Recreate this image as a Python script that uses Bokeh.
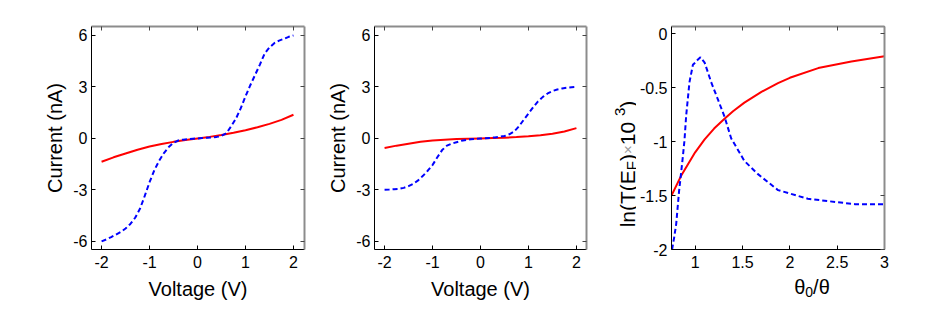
import math
from bokeh.plotting import figure
from bokeh.layouts import row, column
from bokeh.models import Range1d, LinearAxis, FixedTicker
from bokeh.core.properties import value
from bokeh.embed import file_html
from bokeh.resources import INLINE

FONT = "Liberation Sans"

# ---------------- data ----------------
voltage = [-2.0, -1.9, -1.8, -1.7, -1.6, -1.5, -1.4, -1.3, -1.2, -1.1, -1.0,
           -0.9, -0.8, -0.7, -0.6, -0.5, -0.4, -0.3, -0.2, -0.1, 0.0,
           0.1, 0.2, 0.3, 0.4, 0.5, 0.6, 0.7, 0.8, 0.9, 1.0,
           1.1, 1.2, 1.3, 1.4, 1.5, 1.6, 1.7, 1.8, 1.9, 2.0]
current_a_blue = [-6.0, -5.88, -5.75, -5.6, -5.45, -5.25, -4.98, -4.62, -4.1, -3.35, -2.55,
                  -1.85, -1.3, -0.85, -0.5, -0.25, -0.12, -0.07, -0.04, -0.02, 0.0,
                  0.02, 0.04, 0.06, 0.09, 0.15, 0.3, 0.7, 1.15, 1.75, 2.45,
                  3.1, 3.7, 4.3, 4.95, 5.3, 5.55, 5.7, 5.8, 5.92, 6.0]
current_b_blue = [-2.99, -2.98, -2.96, -2.94, -2.88, -2.78, -2.64, -2.44, -2.18, -1.88, -1.55,
                  -1.1, -0.68, -0.42, -0.3, -0.22, -0.14, -0.09, -0.05, -0.02, 0.0,
                  0.01, 0.03, 0.06, 0.1, 0.14, 0.24, 0.4, 0.7, 1.08, 1.45,
                  1.82, 2.16, 2.42, 2.62, 2.76, 2.85, 2.91, 2.95, 2.98, 3.0]

voltage_coarse = [-2.0, -1.75, -1.5, -1.25, -1.0, -0.75, -0.5, -0.25, 0.0,
                  0.25, 0.5, 0.75, 1.0, 1.25, 1.5, 1.75, 2.0]
current_a_red = [-1.36, -1.1, -0.88, -0.66, -0.47, -0.32, -0.2, -0.09, 0.0,
                 0.09, 0.2, 0.33, 0.48, 0.65, 0.85, 1.08, 1.38]
current_b_red = [-0.56, -0.42, -0.31, -0.2, -0.12, -0.07, -0.04, -0.02, 0.0,
                 0.02, 0.04, 0.08, 0.13, 0.19, 0.27, 0.4, 0.6]

theta_blue = [0.756, 0.78, 0.80, 0.83, 0.87, 0.887, 0.905, 0.94, 0.976, 1.0, 1.03, 1.056,
              1.10, 1.169, 1.24, 1.31, 1.38, 1.52, 1.66, 1.875, 2.19, 2.48, 2.69, 3.0]
lnT_blue = [-2.0, -1.88, -1.76, -1.46, -1.14, -0.99, -0.76, -0.45, -0.29, -0.27, -0.24, -0.22,
            -0.27, -0.45, -0.61, -0.77, -0.97, -1.18, -1.30, -1.45, -1.53, -1.56, -1.58, -1.58]
theta_red = [0.75, 0.85, 1.0, 1.1, 1.2, 1.31, 1.4, 1.52, 1.7, 1.875, 2.0, 2.3, 2.65, 3.0]
lnT_red = [-1.5, -1.32, -1.1, -0.98, -0.88, -0.79, -0.72, -0.64, -0.54, -0.46, -0.41, -0.32, -0.26, -0.21]

v_ticks = [-2, -1, 0, 1, 2]
v_tick_labels = ["-2", "-1", "0", "1", "2"]
i_ticks = [-6, -3, 0, 3, 6]
i_tick_labels = ["-6", "-3", "0", "3", "6"]
t_ticks = [1, 1.5, 2, 2.5, 3]
t_tick_labels = ["1", "1.5", "2", "2.5", "3"]
l_ticks = [-2, -1.5, -1, -0.5, 0]
l_tick_labels = ["-2", "-1.5", "-1", "-0.5", "0"]

BLUE = "#0000ff"
RED = "#ff0000"
BOX = "#8c8c8c"
FH = 223
TOP = 26
BOTTOM = 62
DASH = "5 3"


def make_fig(xr, yr, fw, bl, br, bb, xticks, xlabels, yticks, ylabels, xlab, ylab):
    p = figure(frame_width=fw, frame_height=FH,
               x_range=Range1d(*xr), y_range=Range1d(*yr),
               x_axis_type=None, y_axis_type=None,
               output_backend="svg", toolbar_location=None,
               min_border_left=bl, min_border_right=br,
               min_border_top=TOP, min_border_bottom=bb,
               outline_line_color=None, background_fill_color="white",
               border_fill_color="white")
    common = dict(major_tick_in=4, major_tick_out=0, minor_tick_in=0, minor_tick_out=0,
                  major_label_text_font=FONT, major_label_text_font_size="16px",
                  major_label_text_color="black",
                  axis_label_text_font=FONT, axis_label_text_font_size="20px",
                  axis_label_text_font_style="normal", axis_label_text_color="black")
    bx = LinearAxis(ticker=FixedTicker(ticks=xticks),
                    major_label_overrides=dict(zip(xticks, xlabels)),
                    axis_label=xlab, axis_label_standoff=7 if xlab else 0,
                    major_label_standoff=6,
                    axis_line_color="black", major_tick_line_color="black", **common)
    ly = LinearAxis(ticker=FixedTicker(ticks=yticks),
                    major_label_overrides=dict(zip(yticks, ylabels)),
                    axis_label=ylab, axis_label_standoff=4 if ylab else 0,
                    major_label_standoff=4,
                    axis_line_color="black", major_tick_line_color="black", **common)
    p.add_layout(bx, "below")
    p.add_layout(ly, "left")
    for side, tk in (("above", xticks), ("right", yticks)):
        ax = LinearAxis(ticker=FixedTicker(ticks=tk), major_tick_in=4, major_tick_out=0,
                        minor_tick_in=0, minor_tick_out=0,
                        major_label_text_font_size="1px", major_label_text_color=None,
                        major_label_standoff=0, axis_label_standoff=0,
                        axis_line_color=BOX, axis_line_width=2,
                        major_tick_line_color="#444444")
        p.add_layout(ax, side)
    return p


def blank(w, h):
    return figure(frame_width=w, frame_height=h,
                  x_range=Range1d(0, w), y_range=Range1d(0, h),
                  x_axis_type=None, y_axis_type=None,
                  output_backend="svg", toolbar_location=None,
                  min_border_left=0, min_border_right=0, min_border_top=0,
                  min_border_bottom=0, outline_line_color=None,
                  background_fill_color="white", border_fill_color="white")


p1 = make_fig((-2.21, 2.23), (-6.47, 6.52), 213, 91, 15, BOTTOM,
              v_ticks, v_tick_labels, i_ticks, i_tick_labels,
              "Voltage (V)", "Current (nA)")
p1.line(voltage_coarse, current_a_red, line_color=RED, line_width=2)
p1.line(voltage, current_a_blue, line_color=BLUE, line_width=2, line_dash=DASH)

p2 = make_fig((-2.21, 2.21), (-6.47, 6.52), 212, 55, 15, BOTTOM,
              v_ticks, v_tick_labels, i_ticks, i_tick_labels,
              "Voltage (V)", "Current (nA)")
p2.line(voltage_coarse, current_b_red, line_color=RED, line_width=2)
p2.line(voltage, current_b_blue, line_color=BLUE, line_width=2, line_dash=DASH)

P3_BL, P3_FW, P3_BR, P3_BB = 34, 213, 10, 28
p3 = make_fig((0.75, 3.0), (-2.0, 0.065), P3_FW, P3_BL, P3_BR, P3_BB,
              t_ticks, t_tick_labels, l_ticks, l_tick_labels, None, None)
p3.line(theta_red, lnT_red, line_color=RED, line_width=2)
p3.line(theta_blue, lnT_blue, line_color=BLUE, line_width=2, line_dash=DASH)

S, s = 21, 15

# ---- strip left of panel 3: composed y label  ln(T(E_F)x 10^3) ----
LAB_W = 35
lab = blank(LAB_W, TOP + FH + BOTTOM)
ypieces = [("ln(T(E", S, 0, "black", 2.722),
           ("F", s, 4, "black", 0.611),
           (")", S, 0, "black", 0.333),
           ("\u00d7", s, 0, "#9a9a9a", 0.584),
           (" 10", S, 0, "black", 1.39),
           ("3", s, -8, "black", 0.556),
           (")", S, 0, "black", 0.333)]
total = sum(sz * em for _, sz, _, _, em in ypieces)
pos = BOTTOM + (FH - total) / 2
base_x = 26
for txt, sz, shift, col, em in ypieces:
    lab.text(x=[base_x + shift], y=[pos], text=[txt], angle=math.pi / 2,
             text_font=value(FONT), text_font_size=value(f"{sz}px"), text_color=col,
             text_align="left", text_baseline="alphabetic")
    pos += sz * em

# ---- strip below panel 3: composed x label  theta_0/theta ----
XL_W = P3_BL + P3_FW + P3_BR
XL_H = BOTTOM - P3_BB
xl = blank(XL_W, XL_H)
xpieces = [("\u03b8", S - 1, 0, 0.556), ("0", s - 1, -5, 0.556), ("/\u03b8", S - 1, 0, 0.834)]
total = sum(sz * em for _, sz, _, em in xpieces)
pos = P3_BL + P3_FW / 2 - total / 2
base_y = 25
for txt, sz, shift, em in xpieces:
    xl.text(x=[pos], y=[base_y + shift], text=[txt],
            text_font=value(FONT), text_font_size=value(f"{sz}px"), text_color="black",
            text_align="left", text_baseline="alphabetic")
    pos += sz * em

layout = row(p1, p2, lab, column(p3, xl))
open("out.html", "w").write(file_html(layout, INLINE))
